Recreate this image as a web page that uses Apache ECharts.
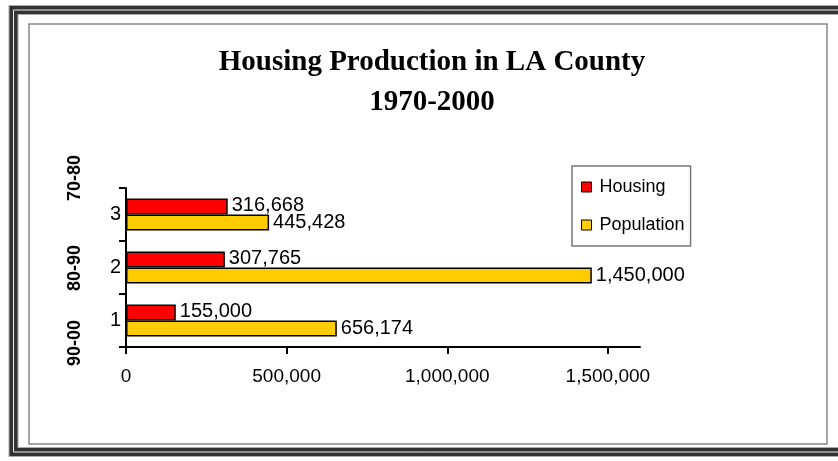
<!DOCTYPE html>
<html>
<head>
<meta charset="utf-8">
<script src="https://cdn.jsdelivr.net/npm/echarts@6/dist/echarts.min.js"></script>
<style>
  html, body { margin: 0; padding: 0; background: #fff; }
  #chart { width: 838px; height: 461px; }
</style>
</head>
<body>
<div id="chart"></div>
<script>
  // data
  var categories = ['1', '2', '3']
  var periodLabels = ['90-00', '80-90', '70-80']
  var housing = [155000, 307765, 316668]
  var population = [656174, 1450000, 445428]
  var xTicks = [0, 500000, 1000000, 1500000]

  var fmt = function (v) {
    return Number(v).toLocaleString('en-US')
  }

  var myChart = echarts.init(document.getElementById('chart'))
  var option = {
    animation: false,
    title: {
      text: 'Housing Production in LA County\n1970-2000',
      left: 427,
      textAlign: 'center',
      top: 38,
      textStyle: {
        fontFamily: 'Liberation Serif',
        fontWeight: 'bold',
        fontSize: 29,
        lineHeight: 40,
        color: '#000'
      }
    },
    legend: {
      orient: 'vertical',
      left: 572,
      top: 166,
      padding: [12, 6, 12, 9],
      itemGap: 20,
      itemWidth: 10,
      itemHeight: 10,
      icon: 'rect',
      borderColor: '#777',
      borderWidth: 1.5,
      data: ['Housing', 'Population'],
      itemStyle: { borderColor: '#000', borderWidth: 1 },
      textStyle: { fontFamily: 'Liberation Sans', fontSize: 18, color: '#000', padding: [0, 0, 0, 3] }
    },
    grid: {
      left: 126,
      right: 198,
      top: 188,
      bottom: 114
    },
    xAxis: {
      type: 'value',
      min: 0,
      max: 1600000,
      interval: 500000,
      splitLine: { show: false },
      axisLine: { show: true, lineStyle: { color: '#000', width: 2 } },
      axisTick: { show: true, length: 7, customValues: xTicks, lineStyle: { color: '#000', width: 2 } },
      axisLabel: {
        customValues: xTicks,
        margin: 20,
        formatter: fmt,
        fontFamily: 'Liberation Sans',
        fontSize: 19,
        color: '#000'
      }
    },
    yAxis: {
      type: 'category',
      data: categories,
      axisLine: { lineStyle: { color: '#000', width: 2 } },
      axisTick: { show: true, length: 7, lineStyle: { color: '#000', width: 2 } },
      axisLabel: { margin: 5, fontFamily: 'Liberation Sans', fontSize: 20, color: '#000' }
    },
    series: [
      {
        name: 'Housing',
        type: 'bar',
        data: housing,
        barWidth: 16,
        barGap: '0%',
        itemStyle: { color: '#FF0000', borderColor: '#000', borderWidth: 1.5 },
        label: {
          show: true, position: 'right', distance: 4, offset: [0, -1], formatter: function (p) { return fmt(p.value) },
          fontFamily: 'Liberation Sans', fontSize: 20, color: '#000'
        }
      },
      {
        name: 'Population',
        type: 'bar',
        data: population,
        barWidth: 16,
        barGap: '0%',
        itemStyle: { color: '#FFCC00', borderColor: '#000', borderWidth: 1.5 },
        label: {
          show: true, position: 'right', distance: 4, formatter: function (p) { return fmt(p.value) },
          fontFamily: 'Liberation Sans', fontSize: 20, color: '#000'
        }
      }
    ],
    graphic: [
      // outer double frame (right side falls outside the picture)
      { type: 'rect', shape: { x: 13.5, y: 10, width: 832, height: 442 }, style: { fill: 'none', stroke: '#aaa', lineWidth: 10 }, silent: true },
      { type: 'rect', shape: { x: 13.5, y: 10, width: 832, height: 442 }, style: { fill: 'none', stroke: '#333', lineWidth: 8 }, silent: true },
      { type: 'rect', shape: { x: 13.5, y: 10, width: 832, height: 442 }, style: { fill: 'none', stroke: '#eee', lineWidth: 1 }, silent: true },
      // inner frame
      { type: 'rect', shape: { x: 29, y: 24, width: 798, height: 420 }, style: { fill: 'none', stroke: '#888', lineWidth: 1.5 }, silent: true },
      { type: 'text', x: 75, y: 178, rotation: Math.PI / 2, style: { text: periodLabels[2], font: 'bold 18px Liberation Sans', fill: '#000', align: 'center', verticalAlign: 'middle' } },
      { type: 'text', x: 75, y: 268, rotation: Math.PI / 2, style: { text: periodLabels[1], font: 'bold 18px Liberation Sans', fill: '#000', align: 'center', verticalAlign: 'middle' } },
      { type: 'text', x: 75, y: 343, rotation: Math.PI / 2, style: { text: periodLabels[0], font: 'bold 18px Liberation Sans', fill: '#000', align: 'center', verticalAlign: 'middle' } }
    ]
  }
  myChart.setOption(option)
</script>
</body>
</html>
